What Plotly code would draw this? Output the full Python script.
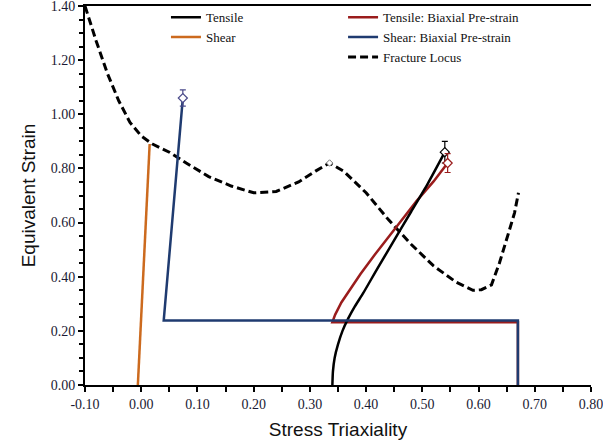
import plotly.graph_objects as go

# ---- data ----
tensile_x = [0.340, 0.341, 0.344, 0.350, 0.358, 0.368, 0.380, 0.395, 0.420, 0.450, 0.480, 0.510, 0.540]
tensile_y = [0.000, 0.050, 0.100, 0.150, 0.200, 0.245, 0.290, 0.340, 0.430, 0.535, 0.640, 0.745, 0.860]

shear_x = [-0.006, 0.015]
shear_y = [0.000, 0.890]

tens_bi_x = [0.670, 0.670, 0.340, 0.345, 0.356, 0.370, 0.390, 0.415, 0.440, 0.460, 0.490, 0.520, 0.545]
tens_bi_y = [0.000, 0.232, 0.232, 0.260, 0.305, 0.350, 0.410, 0.480, 0.545, 0.600, 0.680, 0.752, 0.820]

shear_bi_x = [0.670, 0.670, 0.040, 0.074]
shear_bi_y = [0.000, 0.238, 0.238, 1.060]

frac_x = [-0.10, -0.08, -0.06, -0.04, -0.02, 0.00, 0.02, 0.05, 0.08, 0.12, 0.16, 0.20, 0.24,
          0.28, 0.31, 0.335, 0.36, 0.40, 0.44, 0.48, 0.52, 0.56, 0.59, 0.605, 0.623, 0.637,
          0.655, 0.664, 0.671]
frac_y = [1.40, 1.27, 1.15, 1.05, 0.97, 0.92, 0.89, 0.86, 0.82, 0.77, 0.735, 0.71, 0.715,
          0.75, 0.79, 0.82, 0.79, 0.71, 0.61, 0.52, 0.44, 0.38, 0.35, 0.352, 0.37, 0.45,
          0.573, 0.636, 0.71]

# fracture points with error bars
pt_tens = (0.540, 0.860, 0.040)
pt_tens_bi = (0.545, 0.820, 0.035)
pt_shear_bi = (0.074, 1.060, 0.030)
peak_pt = (0.335, 0.820)

x_ticks = [-0.1, 0.0, 0.1, 0.2, 0.3, 0.4, 0.5, 0.6, 0.7, 0.8]
y_ticks = [0.0, 0.2, 0.4, 0.6, 0.8, 1.0, 1.2, 1.4]

BLACK = "#000000"
ORANGE = "#CC6A1E"
RED = "#9A1C1C"
BLUE = "#1F3B70"
SERIF = "Liberation Serif"
SANS = "Liberation Sans"

fig = go.Figure()

fig.add_trace(go.Scatter(x=frac_x, y=frac_y, mode="lines", name="Fracture Locus",
                         line=dict(color=BLACK, width=3, dash="8px,4px"), legend="legend2"))
fig.add_trace(go.Scatter(x=shear_x, y=shear_y, mode="lines", name="Shear",
                         line=dict(color=ORANGE, width=2.5), legend="legend"))
fig.add_trace(go.Scatter(x=tens_bi_x, y=tens_bi_y, mode="lines", name="Tensile: Biaxial Pre-strain",
                         line=dict(color=RED, width=2.5), legend="legend2"))
fig.add_trace(go.Scatter(x=tensile_x, y=tensile_y, mode="lines", name="Tensile",
                         line=dict(color=BLACK, width=2.5, shape="spline", smoothing=0.6), legend="legend"))
fig.add_trace(go.Scatter(x=shear_bi_x, y=shear_bi_y, mode="lines", name="Shear: Biaxial Pre-strain",
                         line=dict(color=BLUE, width=2.5), legend="legend2"))

# markers
for (px, py, e), col in [(pt_tens, BLACK), (pt_tens_bi, RED), (pt_shear_bi, "#4A4A8A")]:
    fig.add_trace(go.Scatter(x=[px], y=[py], mode="markers", showlegend=False,
                             marker=dict(symbol="diamond", size=7, color="white",
                                         line=dict(color=col, width=1.2)),
                             error_y=dict(type="data", array=[e], color=col, thickness=1.2, width=3)))
fig.add_trace(go.Scatter(x=[peak_pt[0]], y=[peak_pt[1]], mode="markers", showlegend=False,
                         marker=dict(symbol="diamond", size=5, color="white",
                                     line=dict(color="#777777", width=1))))

# legend order
order = ["Tensile", "Shear", "Tensile: Biaxial Pre-strain", "Shear: Biaxial Pre-strain", "Fracture Locus"]
for t in fig.data:
    if t.name in order:
        t.legendrank = order.index(t.name) + 1

tickfont = dict(family=SERIF, size=14, color="#1a1a33")
legfont = dict(family=SERIF, size=13, color="#111")

fig.update_layout(
    width=603, height=448,
    margin=dict(l=85, r=12, t=6, b=63, autoexpand=False),
    paper_bgcolor="white", plot_bgcolor="white",
    showlegend=True,
    legend=dict(x=0.16, y=1.01, xanchor="left", yanchor="top", bgcolor="rgba(0,0,0,0)",
                font=legfont, tracegroupgap=0, itemwidth=30),
    legend2=dict(x=0.51, y=1.01, xanchor="left", yanchor="top", bgcolor="rgba(0,0,0,0)",
                 font=legfont, tracegroupgap=0, itemwidth=30),
    xaxis=dict(range=[-0.1, 0.8], tickvals=x_ticks, ticktext=[f"{v:.2f}" for v in x_ticks],
               showgrid=False, zeroline=False, showline=True, linecolor="black", linewidth=2,
               mirror=True, ticks="outside", ticklen=5, tickwidth=1.5, tickcolor="black",
               ticklabeloverflow="allow",
               minor=dict(dtick=0.05, tick0=-0.1, ticks="outside", ticklen=5, tickwidth=1.5, tickcolor="black"),
               tickfont=tickfont,
               title=dict(text="Stress Triaxiality", standoff=12,
                          font=dict(family=SANS, size=19, color="#111"))),
    yaxis=dict(range=[0, 1.4], tickvals=y_ticks, ticktext=[f"{v:.2f}" for v in y_ticks],
               showgrid=False, zeroline=False, showline=True, linecolor="black", linewidth=2,
               ticks="outside", ticklen=5, tickwidth=1.5, tickcolor="black",
               ticklabeloverflow="allow",
               minor=dict(dtick=0.05, tick0=0, ticks="outside", ticklen=4, tickwidth=1.5, tickcolor="black"),
               tickfont=tickfont,
               title=dict(text="Equivalent Strain", standoff=10,
                          font=dict(family=SANS, size=19, color="#111"))),
)

fig.write_html("out.html")
